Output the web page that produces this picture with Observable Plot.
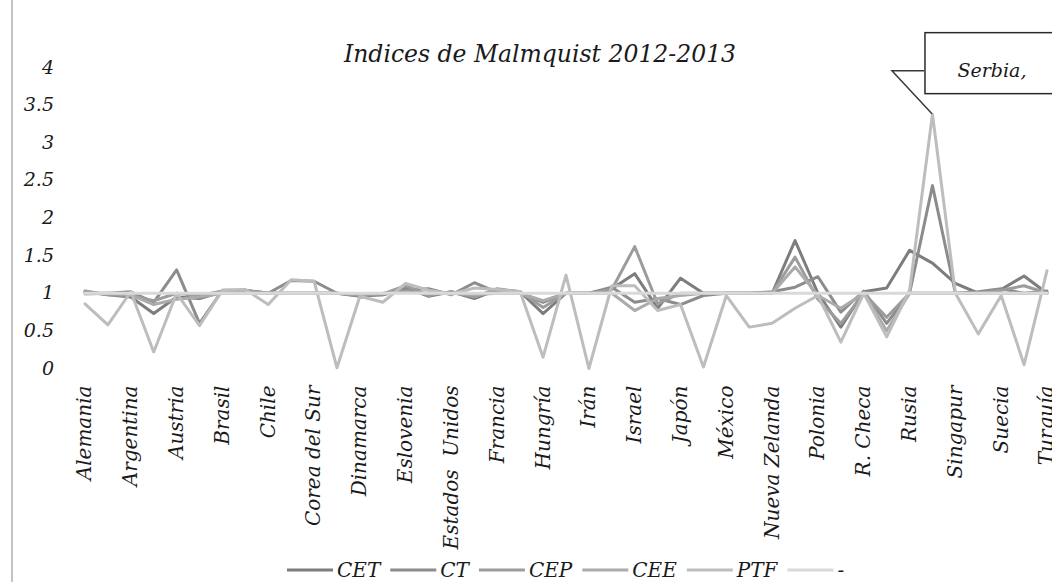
<!DOCTYPE html>
<html><head><meta charset="utf-8">
<script src="https://cdn.jsdelivr.net/npm/d3@7"></script>
<script src="https://cdn.jsdelivr.net/npm/@observablehq/plot@0.6"></script>
<style>
html,body{margin:0;padding:0;background:#fff;}
#wrap{position:relative;width:1052px;height:582px;overflow:hidden;}
#border{position:absolute;left:11px;top:0;width:1.5px;height:582px;background:#c4c4c4;}
#wrap svg{position:absolute;left:0;top:0;}
</style></head><body><div id="wrap"><div id="border"></div></div>
<script>
const title = "Indices de Malmquist 2012-2013";
const categories = ["Alemania","Arabia Saudita","Argentina","Australia","Austria","Bélgica","Brasil","Canadá","Chile","China","Corea del Sur","Croacia","Dinamarca","Egipto","Eslovenia","España","Estados  Unidos","Finlandia","Francia","Grecia","Hungría","India","Irán","Irlanda","Israel","Italia","Japón","Malasia","México","Noruega","Nueva Zelanda","Países Bajos","Polonia","Portugal","R. Checa","Reino Unido","Rusia","Serbia","Singapur","Sudáfrica","Suecia","Suiza","Turquía"];
const tickLabels = ["Alemania","Argentina","Austria","Brasil","Chile","Corea del Sur","Dinamarca","Eslovenia","Estados  Unidos","Francia","Hungría","Irán","Israel","Japón","México","Nueva Zelanda","Polonia","R. Checa","Rusia","Singapur","Suecia","Turquía"];
const yTicks = [0,0.5,1,1.5,2,2.5,3,3.5,4];
const series = ["CET","CT","CEP","CEE","PTF","-"];
const colors = ["#7d7d7d","#8c8c8c","#9c9c9c","#ababab","#bdbdbd","#d9d9d9"];
const CET = [1.02,0.98,0.95,0.73,0.95,0.93,1.02,1.03,1.0,1.0,1.0,1.0,0.96,0.98,1.08,0.96,1.02,0.93,1.05,1.02,0.73,1.0,1.0,1.06,1.26,0.8,1.2,1.0,1.0,1.0,1.0,1.7,1.0,0.55,1.02,1.07,1.57,1.4,1.13,1.0,1.05,1.23,1.0];
const CT  = [1.0,1.0,1.02,0.88,1.31,0.6,1.04,1.04,1.0,1.17,1.16,1.0,0.99,0.98,1.05,1.06,0.98,1.14,1.01,1.0,0.88,1.0,1.0,1.08,0.88,0.93,0.85,0.97,1.0,1.0,1.02,1.08,1.22,0.75,1.03,0.6,1.0,2.43,1.0,1.02,1.06,1.0,1.03];
const CEP = [1.03,0.98,0.97,0.9,1.0,0.97,1.03,1.04,1.0,1.0,1.0,1.0,0.97,0.99,1.1,0.97,1.02,0.95,1.06,1.02,0.81,1.0,1.0,1.05,1.62,0.86,1.0,1.0,1.0,1.0,1.0,1.48,0.92,0.6,1.0,0.68,1.0,1.0,1.0,1.0,1.04,1.1,1.0];
const CEE = [0.99,1.0,0.98,0.85,0.92,0.95,1.0,1.0,1.0,1.0,1.0,1.0,0.99,1.0,1.02,1.0,1.0,0.98,1.0,1.0,0.9,1.0,1.0,1.0,0.77,0.93,0.97,1.0,1.0,1.0,1.0,1.35,0.97,0.8,1.0,0.5,1.0,1.0,1.0,1.0,1.0,1.0,1.0];
const PTF = [0.86,0.58,1.02,0.22,1.0,0.57,1.04,1.05,0.85,1.18,1.16,0.01,0.96,0.88,1.13,1.04,0.99,1.07,1.05,1.02,0.15,1.24,0.0,1.1,1.1,0.77,0.85,0.02,0.97,0.55,0.6,0.8,0.97,0.35,1.0,0.42,1.04,3.38,1.0,0.46,0.97,0.05,1.3];
const REF = [1,1,1,1,1,1,1,1,1,1,1,1,1,1,1,1,1,1,1,1,1,1,1,1,1,1,1,1,1,1,1,1,1,1,1,1,1,1,1,1,1,1,1];
const annotCategory = "Serbia";
const annotText = "Serbia,";

const valuesBySeries = [CET, CT, CEP, CEE, PTF, REF];
const rows = [];
series.forEach((s, k) => valuesBySeries[k].forEach((v, i) => rows.push({cat: categories[i], value: v, series: s})));

const font = "'DejaVu Serif', serif";
const plot = Plot.plot({
  width: 1052, height: 582,
  marginTop: 67, marginBottom: 214, marginLeft: 84.5, marginRight: 5.5,
  style: {fontFamily: font, fontStyle: "italic", fontSize: "19px", color: "#1a1a1a", background: "transparent", overflow: "visible"},
  x: {type: "point", domain: categories, padding: 0, ticks: tickLabels, tickRotate: -90, tickSize: 0, tickPadding: 17, label: null},
  y: {domain: [0, 4], ticks: yTicks, tickFormat: d => String(d), tickSize: 0, tickPadding: 31, label: null},
  color: {domain: series, range: colors},
  marks: [
    Plot.line(rows, {x: "cat", y: "value", z: "series", stroke: "series", strokeWidth: 3, strokeLinejoin: "round"}),
    Plot.text([title], {text: d => d, frameAnchor: "top", dy: -22, dx: -26, fontSize: 23.5, fill: "#1a1a1a"})
  ]
});
document.getElementById("wrap").appendChild(plot);

const svg = d3.select(plot);
// slightly larger category labels
svg.selectAll('[aria-label^="x-axis"] text').attr("font-size", 20);

const xs = plot.scale("x"), ys = plot.scale("y");
const ai = categories.indexOf(annotCategory);
const px = xs.apply(annotCategory), py = ys.apply(PTF[ai]);
const g = svg.append("g");
g.append("polyline")
  .attr("points", `${px},${py} ${px-40},${py-43} ${px-8},${py-43}`)
  .attr("fill", "none").attr("stroke", "#3a3a3a").attr("stroke-width", 1.5);
g.append("rect").attr("x", px-7).attr("y", py-81).attr("width", 160).attr("height", 61)
  .attr("fill", "#fff").attr("stroke", "#2a2a2a").attr("stroke-width", 1.5);
g.append("text").attr("x", px+60).attr("y", py-43).attr("dy", "0.35em")
  .attr("text-anchor", "middle").attr("font-size", 19).attr("font-style", "italic")
  .attr("font-family", font).attr("fill", "#1a1a1a").text(annotText);

// legend
const lg = svg.append("g");
let lx = 287;
const ly = 570;
series.forEach((s, k) => {
  lg.append("line").attr("x1", lx).attr("x2", lx + 46).attr("y1", ly).attr("y2", ly)
    .attr("stroke", colors[k]).attr("stroke-width", 3);
  const t = lg.append("text").attr("x", lx + 50).attr("y", ly).attr("dy", "0.35em")
    .attr("text-anchor", "start")
    .attr("font-size", 20).attr("font-style", "italic").attr("font-family", font)
    .attr("fill", "#1a1a1a").text(s);
  lx += 50 + t.node().getComputedTextLength() + 10;
});
</script>
</body></html>
